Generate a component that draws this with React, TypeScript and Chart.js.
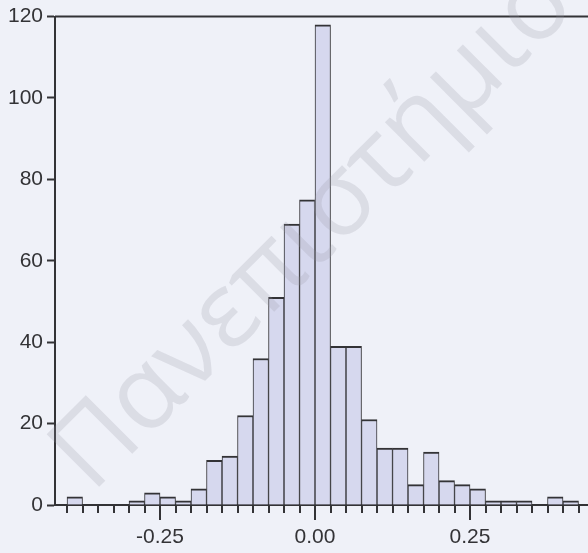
import { useEffect, useRef } from "react";
import { Chart, registerables } from "chart.js";

Chart.register(...registerables);

// Lower edge of each histogram bin (bin width 0.025)
const BIN_EDGES = [
  -0.4, -0.375, -0.35, -0.325, -0.3, -0.275, -0.25, -0.225, -0.2, -0.175, -0.15,
  -0.125, -0.1, -0.075, -0.05, -0.025, 0.0, 0.025, 0.05, 0.075, 0.1, 0.125, 0.15,
  0.175, 0.2, 0.225, 0.25, 0.275, 0.3, 0.325, 0.35, 0.375, 0.4,
];
const BIN_WIDTH = 0.025;
const COUNTS = [
  2, 0, 0, 0, 1, 3, 2, 1, 4, 11, 12,
  22, 36, 51, 69, 75, 118, 39, 39, 21, 14, 14, 5,
  13, 6, 5, 4, 1, 1, 1, 0, 2, 1,
];
const X_TICK_VALUES = [-0.25, 0.0, 0.25];
const X_TICK_LABELS = ["-0.25", "0.00", "0.25"];
const Y_TICK_VALUES = [0, 20, 40, 60, 80, 100, 120];
const X_MIN = -0.4194;
const X_MAX = 0.4403;
const WATERMARK = "Πανεπιστήμιο";

const INK = "#333336";
const BG = "#eff1f8";
const FONT = '"Liberation Sans", Arial, sans-serif';

export default function App() {
  const ref = useRef<HTMLCanvasElement | null>(null);

  useEffect(() => {
    if (!ref.current) return;

    const minorTicks = [...BIN_EDGES, BIN_EDGES[BIN_EDGES.length - 1] + BIN_WIDTH];

    const decor = {
      id: "decor",
      afterDatasetsDraw(chart: any) {
        const { ctx, chartArea } = chart;
        const x = chart.scales.x;
        const y = chart.scales.y;
        ctx.save();
        // top frame line at 120
        ctx.strokeStyle = INK;
        ctx.lineWidth = 2;
        const yt = y.getPixelForValue(120);
        ctx.beginPath();
        ctx.moveTo(chartArea.left, yt);
        ctx.lineTo(chart.width, yt);
        ctx.stroke();
        // x tick marks
        const base = chartArea.bottom;
        minorTicks.forEach((v) => {
          const px = Math.round(x.getPixelForValue(v));
          const major = X_TICK_VALUES.some((t) => Math.abs(t - v) < 1e-9);
          ctx.beginPath();
          ctx.moveTo(px, base);
          ctx.lineTo(px, base + (major ? 15 : 8));
          ctx.stroke();
        });
        ctx.restore();

        // watermark
        ctx.save();
        ctx.translate(92, 494);
        ctx.rotate((-45 * Math.PI) / 180);
        ctx.font = `104px "Open Sans", "Noto Sans", sans-serif`;
        ctx.fillStyle = "rgba(150,150,162,0.22)";
        ctx.textBaseline = "alphabetic";
        ctx.fillText(WATERMARK, 0, 0);
        ctx.restore();
      },
    };

    const chart = new Chart(ref.current, {
      type: "bar",
      data: {
        datasets: [
          {
            data: BIN_EDGES.map((e, i) => ({ x: e + BIN_WIDTH / 2, y: COUNTS[i] })),
            backgroundColor: "#d6d8ee",
            borderColor: INK,
            borderWidth: { top: 2, left: 1, right: 1, bottom: 0 },
            barPercentage: 1,
            categoryPercentage: 1,
          } as any,
        ],
      },
      options: {
        animation: false,
        responsive: true,
        maintainAspectRatio: false,
        layout: { padding: { top: 16, right: 0, bottom: 0, left: 0 } },
        plugins: { legend: { display: false }, tooltip: { enabled: false } },
        scales: {
          x: {
            type: "linear",
            min: X_MIN,
            max: X_MAX,
            offset: false,
            afterBuildTicks: (s: any) => {
              s.ticks = X_TICK_VALUES.map((v) => ({ value: v }));
            },
            afterFit: (s: any) => {
              s.height = 48;
            },
            ticks: {
              autoSkip: false,
              maxRotation: 0,
              padding: 20,
              color: INK,
              font: { family: FONT, size: 21 },
              callback: (_v: any, i: number) => X_TICK_LABELS[i],
            },
            grid: { display: false, drawTicks: false },
            border: { display: true, color: INK, width: 2 },
          },
          y: {
            min: 0,
            max: 120,
            afterBuildTicks: (s: any) => {
              s.ticks = Y_TICK_VALUES.map((v) => ({ value: v }));
            },
            afterFit: (s: any) => {
              s.width = 55;
            },
            ticks: {
              padding: 4,
              color: INK,
              font: { family: FONT, size: 21 },
            },
            grid: {
              drawOnChartArea: false,
              drawTicks: true,
              tickLength: 8,
              tickWidth: 2,
              tickColor: INK,
            },
            border: { display: true, color: INK, width: 2 },
          },
        },
      } as any,
      plugins: [decor],
    });

    return () => chart.destroy();
  }, []);

  return (
    <div
      style={{
        position: "fixed",
        left: 0,
        top: 0,
        width: 588,
        height: 553,
        background: BG,
      }}
    >
      <canvas ref={ref} />
    </div>
  );
}
